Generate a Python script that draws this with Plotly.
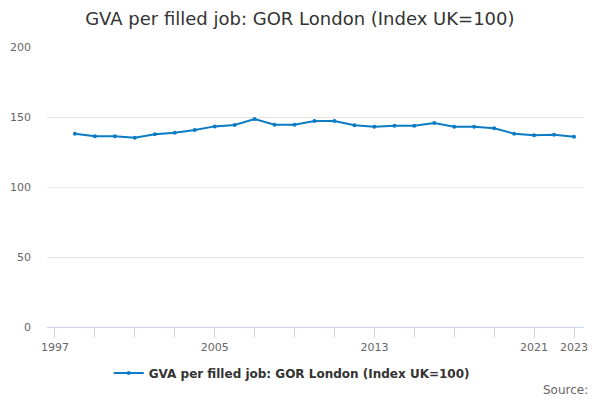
import plotly.graph_objects as go

years = list(range(1998, 2024))
gva_index = [138.1, 136.2, 136.2, 135.2, 137.6, 138.8, 140.7, 143.3, 144.3, 148.6,
             144.5, 144.5, 147.1, 147.1, 144.1, 143.1, 143.8, 143.8, 145.7, 143.1,
             143.1, 141.9, 138.1, 136.9, 137.4, 135.9]

tick_years = list(range(1997, 2024, 2))
labelled = {1997, 2005, 2013, 2021, 2023}
tick_text = [str(y) if y in labelled else "" for y in tick_years]
series_name = "GVA per filled job: GOR London (Index UK=100)"

fig = go.Figure()
fig.add_trace(go.Scatter(
    x=years, y=gva_index, mode="lines+markers", name=series_name,
    line=dict(color="#0a7bc4", width=2),
    marker=dict(color="#0a7bc4", size=4),
))

# Labelled years get their own ticks so 2023 sits at the end
fig.update_xaxes(
    range=[1996.6, 2023.5],
    tickvals=tick_years, ticktext=tick_text,
    ticks="outside", ticklen=10, tickcolor="#ccd6eb", tickwidth=1,
    showline=True, linecolor="#ccd6eb", linewidth=1,
    showgrid=False, zeroline=False,
    tickfont=dict(size=11, color="#666666"),
)
fig.update_yaxes(
    range=[0, 200], tickvals=[0, 50, 100, 150, 200],
    showgrid=True, gridcolor="#e6e6e6", zeroline=False,
    tickfont=dict(size=11, color="#666666"),
    ticklabelstandoff=15,
)

# page body has an 8px margin, so the figure is a bit smaller than the window
fig.update_layout(
    width=592, height=392,
    margin=dict(l=39, r=16, t=39, b=73, autoexpand=False),
    paper_bgcolor="white", plot_bgcolor="white",
    font=dict(family="DejaVu Sans", color="#333333"),
    title=dict(text="GVA per filled job: GOR London (Index UK=100)",
               x=0.493, xanchor="center", y=0.974, yanchor="middle",
               font=dict(size=18, color="#333333")),
    showlegend=True,
    legend=dict(orientation="h", x=0.115, xanchor="left", y=-0.164, yanchor="middle",
                font=dict(size=12, color="#333333", weight="bold")),
    annotations=[dict(text="Source:", xref="paper", yref="paper", x=1.011, y=-0.225,
                      xanchor="right", yanchor="middle", showarrow=False,
                      font=dict(size=12, color="#666666"))],
)

fig.write_html("out.html")
